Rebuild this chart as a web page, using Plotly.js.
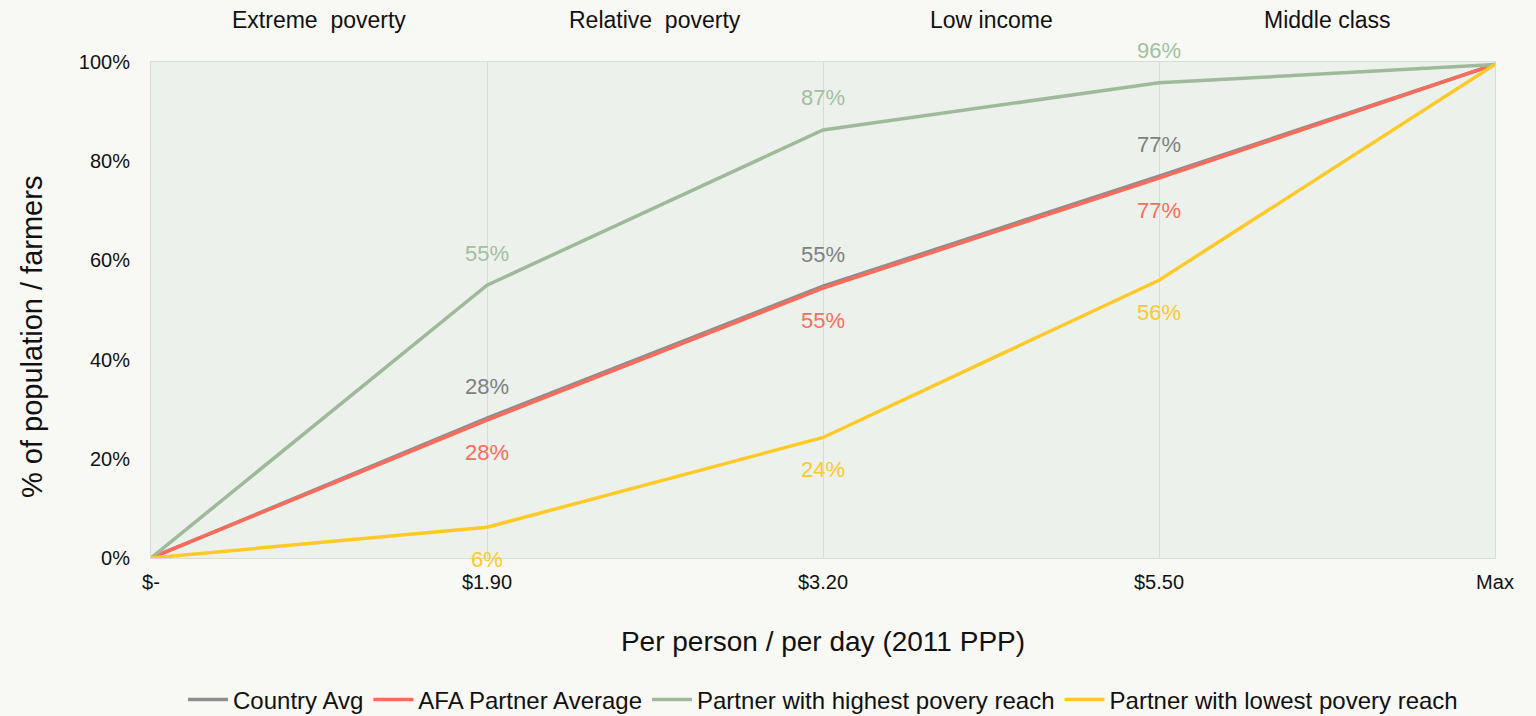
<!DOCTYPE html>
<html>
<head>
<meta charset="utf-8">
<script src="https://cdn.plot.ly/plotly-3.0.1.min.js"></script>
<style>
  html, body { margin: 0; padding: 0; background: #f8f8f4; }
  #chart { width: 1536px; height: 716px; }
</style>
</head>
<body>
<div id="chart"></div>
<script>
var categories = ['$-', '$1.90', '$3.20', '$5.50', 'Max'];
var bands = ['Extreme\u00a0 poverty', 'Relative\u00a0 poverty', 'Low income', 'Middle class'];
var yTicks = [0, 20, 40, 60, 80, 100];
var yTickText = ['0%', '20%', '40%', '60%', '80%', '100%'];

var countryAvg = [0, 28.2, 54.8, 77.0, 99.5];
var afaAvg = [0, 27.8, 54.4, 76.6, 99.5];
var highest = [0, 55, 86.3, 95.8, 99.5];
var lowest = [0, 6.2, 24.3, 56, 99.5];

var countryLbl = ['', '28%', '55%', '77%', ''];
var afaLbl = ['', '28%', '55%', '77%', ''];
var highLbl = ['', '55%', '87%', '96%', ''];
var lowLbl = ['', '6%', '24%', '56%', ''];

var FONT = 'Liberation Sans, Arial, sans-serif';

var series = [
  {name: 'Country Avg', y: countryAvg, lbl: countryLbl, color: '#8e8e8e', txt: '#808080', shift: 32},
  {name: 'AFA Partner Average', y: afaAvg, lbl: afaLbl, color: '#ff6b5a', txt: '#ff6b5a', shift: -32},
  {name: 'Partner with highest povery reach', y: highest, lbl: highLbl, color: '#9fba9b', txt: '#a3bfa0', shift: 32},
  {name: 'Partner with lowest povery reach', y: lowest, lbl: lowLbl, color: '#ffc928', txt: '#ffc928', shift: -32}
];

var data = series.map(function(s) {
  return {
    x: categories, y: s.y, name: s.name, type: 'scatter', mode: 'lines',
    line: {color: s.color, width: 3.5}, hoverinfo: 'skip'
  };
});

var annotations = [];
series.forEach(function(s) {
  for (var i = 0; i < categories.length; i++) {
    if (!s.lbl[i]) continue;
    annotations.push({
      x: categories[i], y: s.y[i], xref: 'x', yref: 'y', text: s.lbl[i],
      showarrow: false, yshift: s.shift, font: {family: FONT, size: 22, color: s.txt}
    });
  }
});
// category band labels above the plot, between the ticks
bands.forEach(function(b, i) {
  annotations.push({
    x: i + 0.5, y: 1 + (62 - 20) / 496, xref: 'x', yref: 'paper', yanchor: 'middle', text: b,
    showarrow: false, font: {family: FONT, size: 23, color: '#111'}
  });
});
annotations.push({
  x: (32 - 151) / 1344, y: (558 - 337) / 496, xref: 'paper', yref: 'paper',
  xanchor: 'center', yanchor: 'middle', textangle: -90,
  text: '% of population / farmers', showarrow: false,
  font: {family: FONT, size: 29, color: '#111'}
});

var layout = {
  width: 1536, height: 716,
  margin: {l: 151, r: 41, t: 62, b: 158, autoexpand: false},
  paper_bgcolor: '#f8f8f4', plot_bgcolor: '#ecf1eb',
  font: {family: FONT, color: '#111'},
  showlegend: true,
  legend: {
    orientation: 'h', x: 0.5, xanchor: 'center', y: (558 - 700) / 496, yanchor: 'middle',
    font: {family: FONT, size: 24, color: '#111'}, itemwidth: 40, tracegroupgap: 0
  },
  xaxis: {
    type: 'category', range: [0, 4], showgrid: true, gridcolor: '#d8dbd6', gridwidth: 1,
    showline: true, linecolor: '#d8dbd6', mirror: true, zeroline: false,
    ticks: '', tickfont: {family: FONT, size: 20, color: '#111'}, ticklabelstandoff: 6,
    title: {text: 'Per person / per day (2011 PPP)', font: {family: FONT, size: 28, color: '#111'}, standoff: 39}
  },
  yaxis: {
    range: [0, 100], tickvals: yTicks, ticktext: yTickText,
    showgrid: false, showline: true, linecolor: '#d8dbd6', mirror: true, zeroline: false,
    ticks: '', tickfont: {family: FONT, size: 20, color: '#111'}, ticklabelstandoff: 16
  },
  annotations: annotations
};

Plotly.newPlot('chart', data, layout, {displayModeBar: false, staticPlot: true});
</script>
</body>
</html>
